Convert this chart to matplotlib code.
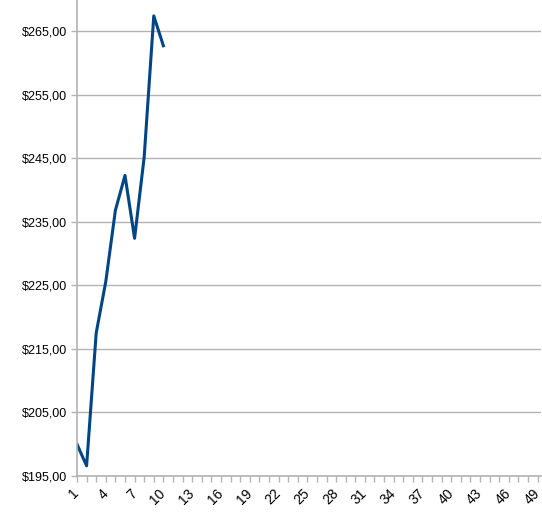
import matplotlib
matplotlib.use("Agg")
from matplotlib import pyplot as plt
from matplotlib.ticker import FuncFormatter

# data
days = list(range(1, 50))
prices = [200.0, 196.6, 217.5, 225.6, 236.8, 242.3, 232.4, 245.2, 267.4, 262.7]
y_ticks = [195, 205, 215, 225, 235, 245, 255, 265]

plt.rcParams['font.family'] = ['Liberation Sans', 'DejaVu Sans']

fig = plt.figure(figsize=(5.42, 5.20), dpi=100)
ax = fig.add_axes([77 / 542, 44 / 520, 464 / 542, 476 / 520])

ax.plot(days[:len(prices)], prices, color='#004586', lw=2.2)

ax.set_xlim(1, 49.35)
ax.set_ylim(195, 269.9)
ax.set_xticks(days)
# va='center' keeps the rotated labels a bit further left, so "49" fits
ax.set_xticklabels([str(d) if (d - 1) % 3 == 0 else '' for d in days],
                   rotation=45, ha='right', va='center', rotation_mode='anchor',
                   fontsize=10)
ax.set_yticks(y_ticks)
ax.yaxis.set_major_formatter(FuncFormatter(lambda v, p: ('$%.2f' % v).replace('.', ',')))

ax.grid(axis='y', color='#b3b3b3', lw=1)
ax.set_axisbelow(True)
for s in ['top', 'right']:
    ax.spines[s].set_visible(False)
for s in ['left', 'bottom']:
    ax.spines[s].set_color('#b3b3b3')
    ax.spines[s].set_linewidth(1.2)
ax.tick_params(axis='both', color='#b3b3b3', length=4, width=1, pad=3)
ax.tick_params(axis='x', pad=7)
ax.tick_params(axis='y', labelsize=9)

fig.savefig('out.png', dpi=100)
